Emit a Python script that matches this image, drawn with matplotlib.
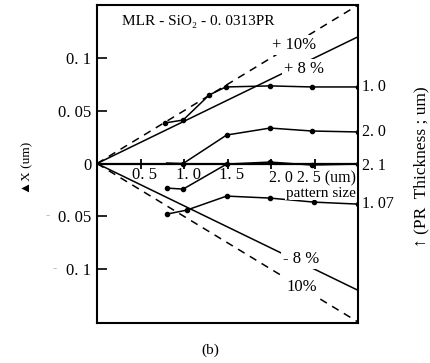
import numpy as np
import matplotlib.pyplot as plt

plt.rcParams['font.family'] = ['Liberation Serif', 'DejaVu Sans']

# pattern size (um) and dX (um) for each PR thickness curve
t10_x = [0.78, 0.99, 1.29, 1.48, 1.99, 2.47, 3.0]
t10_y = [0.0384, 0.0412, 0.0649, 0.0725, 0.0735, 0.0725, 0.0725]

t20_x = [0.80, 0.99, 1.49, 1.99, 2.47, 3.0]
t20_y = [0.0005, 0.0, 0.027, 0.0336, 0.0308, 0.0299]

t21_x = [0.80, 0.99, 1.49, 1.99, 2.47, 3.0]
t21_y = [-0.0232, -0.0242, -0.0005, 0.0014, -0.0014, -0.0005]

t107_x = [0.80, 1.03, 1.49, 1.99, 2.49, 3.0]
t107_y = [-0.0479, -0.0441, -0.0308, -0.0327, -0.0365, -0.0384]

# +/-8% (solid) and +/-10% (dashed) reference lines
ref_x = [0.0, 3.0]
p8_y = [0.0, 0.12]
p10_y = [0.0, 0.15]
m8_y = [0.0, -0.12]
m10_y = [0.0, -0.15]

xticks = [0.5, 1.0, 1.5, 2.0, 2.5]
xtick_labels = ["0. 5", "1. 0", "1. 5"]
yticks = [0.1, 0.05, 0.0, -0.05, -0.1]
ytick_labels = ["0. 1", "0. 05", "0", "0. 05", "0. 1"]

fig = plt.figure(figsize=(4.3, 3.63), dpi=100)
ax = fig.add_axes([0.2256, 0.110, 0.607, 0.876])
ax.set_xlim(0, 3.0)
ax.set_ylim(-0.151, 0.150)

lw = 1.1
ax.plot(ref_x, p8_y, color='black', lw=lw)
ax.plot(ref_x, m8_y, color='black', lw=lw)
ax.plot(ref_x, p10_y, color='black', lw=lw, ls=(0, (5, 4)))
ax.plot(ref_x, m10_y, color='black', lw=lw, ls=(0, (5, 4)))

# zero line with pattern-size ticks
ax.axhline(0, color='black', lw=1.6)
ax.plot(xticks, [0] * len(xticks), '|', color='black', ms=7, mew=1.3)

ax.plot(t10_x, t10_y, color='black', lw=lw, marker='o', ms=3)
ax.plot(t20_x, t20_y, color='black', lw=lw, marker='o', ms=3, markevery=[1, 2, 3, 4, 5])
ax.plot(t21_x, t21_y, color='black', lw=lw, marker='o', ms=3)
ax.plot(t107_x, t107_y, color='black', lw=lw, marker='o', ms=3)

for xv, yv, lab in [(t10_x[-1], t10_y[-1], "1. 0"), (t20_x[-1], t20_y[-1], "2. 0"),
                    (t21_x[-1], t21_y[-1] - 0.002, "2. 1"), (t107_x[-1], t107_y[-1], "1. 07")]:
    ax.text(xv + 0.05, yv, lab, fontsize=11.5, va='center', ha='left', clip_on=False)

# percentage labels
wb = dict(facecolor='white', edgecolor='none', pad=1.5)
ax.text(2.27, 0.112, "+ 10%", fontsize=12, ha='center', va='center', bbox=wb, zorder=5)
ax.text(2.38, 0.0895, "+ 8 %", fontsize=12, ha='center', va='center', bbox=wb, zorder=5)
ax.text(2.35, -0.090, "- 8 %", fontsize=12, ha='center', va='center', bbox=wb, zorder=5)
ax.text(2.35, -0.117, "10%", fontsize=12, ha='center', va='center', bbox=wb, zorder=5)

# x tick labels inside the axes
for xv, lab in zip(xticks, xtick_labels):
    ax.text(xv + 0.05, -0.011, lab, fontsize=12, ha='center', va='center')
ax.text(2.98, -0.0145, "2. 0 2. 5 (um)", fontsize=11.5, ha='right', va='center',
        bbox=dict(facecolor='white', edgecolor='none', pad=0.3), zorder=4)
ax.text(2.97, -0.0285, "pattern size", fontsize=11, ha='right', va='center',
        bbox=dict(facecolor='white', edgecolor='none', pad=0.2), zorder=4)

ax.text(0.29, 0.134, "MLR - SiO₂ - 0. 0313PR", fontsize=11, ha='left', va='center')

ax.set_xticks([])
ax.set_yticks(yticks)
ax.set_yticklabels(ytick_labels, fontsize=12)
ax.tick_params(axis='y', direction='in', length=7, width=1.2, pad=4)
for s in ax.spines.values():
    s.set_linewidth(1.5)

# faint minus signs on negative labels
ty = ax.get_yaxis_transform()
ax.text(-0.188, -0.05, "-", transform=ty, color='#bbbbbb', fontsize=9, ha='center', va='center')
ax.text(-0.161, -0.1, "-", transform=ty, color='#bbbbbb', fontsize=9, ha='center', va='center')

fig.text(0.063, 0.537, "▲X (um)", rotation=90, fontsize=9.5, ha='center', va='center')
fig.text(0.981, 0.54, "↑ (PR  Thickness ; um)", rotation=90, fontsize=12.5, ha='center', va='center')
fig.text(0.49, 0.035, "(b)", fontsize=11, ha='center', va='center')

fig.savefig("out.png", dpi=100)
